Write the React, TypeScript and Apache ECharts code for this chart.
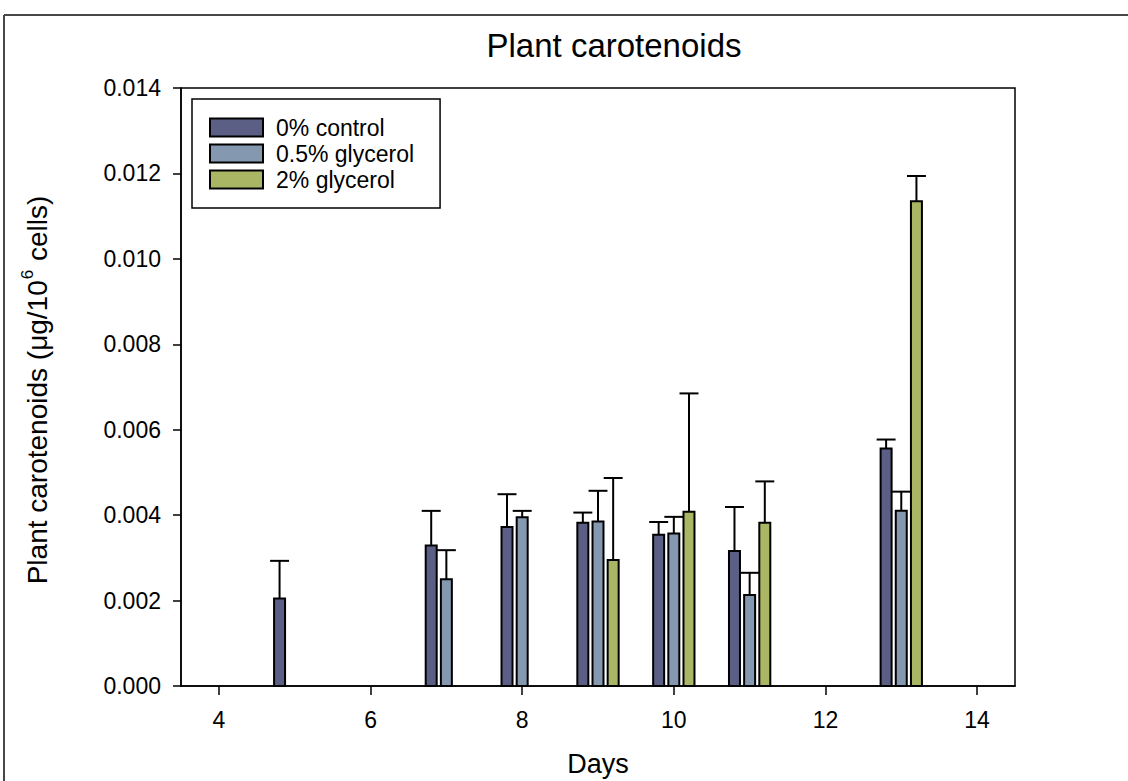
import React, { useEffect, useRef } from "react";
import * as echarts from "echarts";

// Sampling days and the three treatments (mean ± upper SD, µg per 10^6 cells)
const days = [5, 7, 8, 9, 10, 11, 13];
const seriesNames = ["0% control", "0.5% glycerol", "2% glycerol"];

const control = [0.00205, 0.00329, 0.00372, 0.00382, 0.00354, 0.00316, 0.00556];
const controlErr = [0.00088, 0.00081, 0.00077, 0.00024, 0.0003, 0.00103, 0.00021];

const glycerol05 = [null, 0.0025, 0.00395, 0.00385, 0.00357, 0.00213, 0.0041];
const glycerol05Err = [null, 0.00068, 0.00015, 0.00072, 0.00039, 0.00052, 0.00045];

const glycerol2 = [null, null, null, 0.00295, 0.00408, 0.00382, 0.01135];
const glycerol2Err = [null, null, null, 0.00192, 0.00277, 0.00097, 0.00059];

const xTicks = [4, 6, 8, 10, 12, 14];

const colors = ["#5b5f86", "#8498b0", "#abb664"];
const FONT = "'Liberation Sans', Arial, sans-serif";

type Num = number | null;

function rows(values: Num[], errs: Num[], offset: number) {
  const out: number[][] = [];
  values.forEach((v, i) => {
    if (v !== null) out.push([days[i] + offset, v, errs[i] ?? 0]);
  });
  return out;
}

function makeSeries(name: string, color: string, data: number[][]) {
  return {
    type: "custom",
    name,
    itemStyle: { color, borderColor: "#000", borderWidth: 2 },
    data,
    encode: { x: 0, y: 1 },
    renderItem: (params: any, api: any) => {
      const x = api.value(0);
      const y = api.value(1);
      const e = api.value(2);
      const base = api.coord([x, 0]);
      const top = api.coord([x, y]);
      const cap = api.coord([x, y + e]);
      const bw = api.size([0.145, 0])[0];
      const capW = api.size([0.25, 0])[0];
      return {
        type: "group",
        children: [
          {
            type: "line",
            shape: { x1: top[0], y1: top[1], x2: cap[0], y2: cap[1] },
            style: { stroke: "#000", lineWidth: 2 },
          },
          {
            type: "line",
            shape: { x1: cap[0] - capW / 2, y1: cap[1], x2: cap[0] + capW / 2, y2: cap[1] },
            style: { stroke: "#000", lineWidth: 2 },
          },
          {
            type: "rect",
            shape: { x: base[0] - bw / 2, y: top[1], width: bw, height: base[1] - top[1] },
            style: { fill: color, stroke: "#000", lineWidth: 2 },
          },
        ],
      };
    },
  };
}

export default function App() {
  const ref = useRef<HTMLDivElement>(null);

  useEffect(() => {
    if (!ref.current) return;
    const chart = echarts.init(ref.current, undefined, { renderer: "svg" });

    chart.setOption({
      animation: false,
      backgroundColor: "#fff",
      textStyle: { fontFamily: FONT, color: "#000" },
      title: {
        text: "Plant carotenoids",
        left: 609,
        top: 24,
        textAlign: "center",
        textStyle: { fontFamily: FONT, fontSize: 33, fontWeight: "normal", color: "#000" },
      },
      legend: {
        orient: "vertical",
        left: 192,
        top: 99,
        icon: "rect",
        itemWidth: 53,
        itemHeight: 18,
        itemGap: 3,
        padding: [17, 26, 17, 17],
        borderColor: "#000",
        borderWidth: 1.5,
        backgroundColor: "#fff",
        itemStyle: { borderColor: "#000", borderWidth: 2 },
        textStyle: { fontFamily: FONT, fontSize: 23, color: "#000", padding: [0, 0, 0, 8] },
        data: seriesNames,
      },
      grid: {
        left: 181,
        top: 88,
        right: 113,
        bottom: 95,
        outerBoundsMode: "none",
        containLabel: false,
        show: true,
        borderColor: "#000",
        borderWidth: 1.5,
        backgroundColor: "transparent",
      },
      xAxis: {
        type: "value",
        min: 3.5,
        max: 14.5,
        name: "Days",
        nameLocation: "middle",
        nameGap: 64,
        nameTextStyle: { fontFamily: FONT, fontSize: 27, color: "#000" },
        axisLine: { show: true, onZero: false, lineStyle: { color: "#000", width: 1.5 } },
        axisTick: { show: true, inside: false, length: 9, customValues: xTicks, lineStyle: { color: "#000", width: 1.5 } },
        axisLabel: { customValues: xTicks, fontFamily: FONT, fontSize: 23, color: "#000", margin: 22 },
        splitLine: { show: false },
      },
      yAxis: {
        type: "value",
        min: 0,
        max: 0.014,
        interval: 0.002,
        axisLine: { show: true, lineStyle: { color: "#000", width: 1.5 } },
        axisTick: { show: true, inside: false, length: 8, lineStyle: { color: "#000", width: 1.5 } },
        axisLabel: {
          fontFamily: FONT,
          fontSize: 23,
          color: "#000",
          margin: 20,
          formatter: (v: number) => v.toFixed(3),
        },
        splitLine: { show: false },
      },
      graphic: [
        {
          type: "line",
          shape: { x1: 4, y1: 15, x2: 1128, y2: 15 },
          style: { stroke: "#474747", lineWidth: 2 },
        },
        {
          type: "line",
          shape: { x1: 4, y1: 15, x2: 4, y2: 781 },
          style: { stroke: "#474747", lineWidth: 2 },
        },
        {
          type: "text",
          x: 35,
          y: 390,
          rotation: Math.PI / 2,
          style: {
            text: "{a|Plant carotenoids (μg/10}{s|6}{a| cells)}",
            align: "center",
            verticalAlign: "middle",
            rich: {
              a: { fontFamily: FONT, fontSize: 28, color: "#000", lineHeight: 32, verticalAlign: "bottom" },
              s: { fontFamily: FONT, fontSize: 17, color: "#000", lineHeight: 32, verticalAlign: "top", padding: [0, 1, 0, 1] },
            },
          },
        },
      ],
      series: [
        makeSeries(seriesNames[0], colors[0], rows(control, controlErr, -0.2)),
        makeSeries(seriesNames[1], colors[1], rows(glycerol05, glycerol05Err, 0)),
        makeSeries(seriesNames[2], colors[2], rows(glycerol2, glycerol2Err, 0.2)),
      ],
    });

    return () => chart.dispose();
  }, []);

  return (
    <div
      ref={ref}
      style={{ position: "fixed", left: 0, top: 0, width: 1128, height: 781 }}
    />
  );
}
